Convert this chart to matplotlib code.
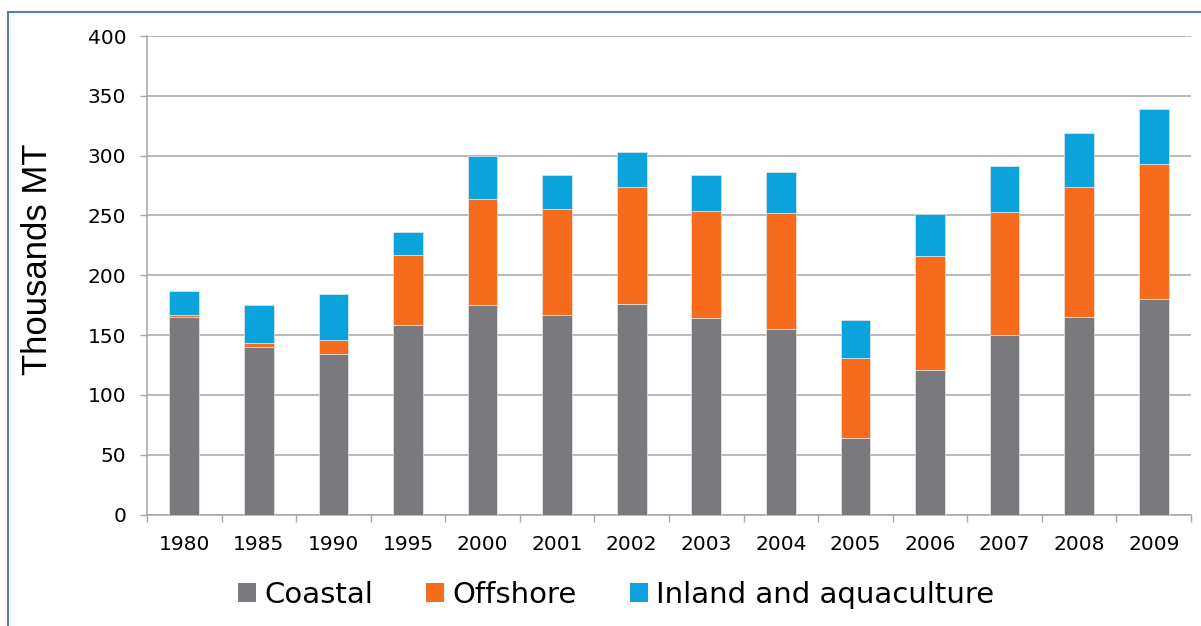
import matplotlib.pyplot as plt
from matplotlib.patches import Rectangle
import numpy as np

# Catch by sector, thousands of metric tonnes
years = ['1980', '1985', '1990', '1995', '2000', '2001', '2002',
         '2003', '2004', '2005', '2006', '2007', '2008', '2009']
coastal = [165, 140, 134, 158, 175, 167, 176, 164, 155, 64, 121, 150, 165, 180]
offshore = [2, 3, 12, 59, 89, 88, 98, 90, 97, 67, 95, 103, 109, 113]
inland = [20, 32, 38, 19, 36, 29, 29, 30, 34, 32, 35, 38, 45, 46]

series = ['Coastal', 'Offshore', 'Inland and aquaculture']
colors = ['#7A7A7E', '#F76B1C', '#0AA3DB']

fig = plt.figure(figsize=(12.01, 6.26), dpi=100)
ax = fig.add_axes([147 / 1201, 1 - 514.5 / 626, 1044 / 1201, 478.5 / 626])

x = np.arange(len(years))
bottom = np.zeros(len(years))
for name, vals, col in zip(series, [coastal, offshore, inland], colors):
    ax.bar(x, vals, width=0.4, bottom=bottom, color=col, label=name,
           edgecolor='#e6e6e6', linewidth=0.5, zorder=3)
    bottom += np.array(vals)

ax.set_xlim(-0.5, len(years) - 0.5)
ax.set_ylim(0, 400)
ax.set_yticks(np.arange(0, 401, 50))
ax.grid(axis='y', color='#A6A6A6', linewidth=1.1, zorder=0)

# category labels centred, tick marks between categories
ax.set_xticks(x)
ax.set_xticklabels(years)
ax.set_xticks(np.arange(-0.5, len(years), 1), minor=True)
ax.tick_params(axis='x', which='major', length=0, pad=15, labelsize=14.5)
ax.tick_params(axis='x', which='minor', length=5, width=1, color='#A6A6A6')
ax.tick_params(axis='y', length=5, width=1, color='#A6A6A6', pad=10, labelsize=14.5)

for side in ['top', 'right']:
    ax.spines[side].set_visible(False)
for side in ['left', 'bottom']:
    ax.spines[side].set_color('#A6A6A6')
    ax.spines[side].set_linewidth(1.1)

ax.set_ylabel('Thousands MT', fontsize=25, family='Liberation Sans')
ax.yaxis.set_label_coords(-0.089, 0.533)

leg = fig.legend(loc='center', bbox_to_anchor=(0.513, 1 - 595 / 626), ncol=3,
                 frameon=False, fontsize=21, handlelength=0.62, handleheight=0.62,
                 handletextpad=0.3, columnspacing=1.8)
for h in leg.legend_handles:
    h.set_edgecolor('none')

# outline around the chart area
fig.add_artist(Rectangle((8 / 1201, -0.1), 1.2, 1.1 - 12 / 626,
                         transform=fig.transFigure, fill=False,
                         edgecolor='#4F81BD', linewidth=1.5))

fig.savefig('out.png', dpi=100)
